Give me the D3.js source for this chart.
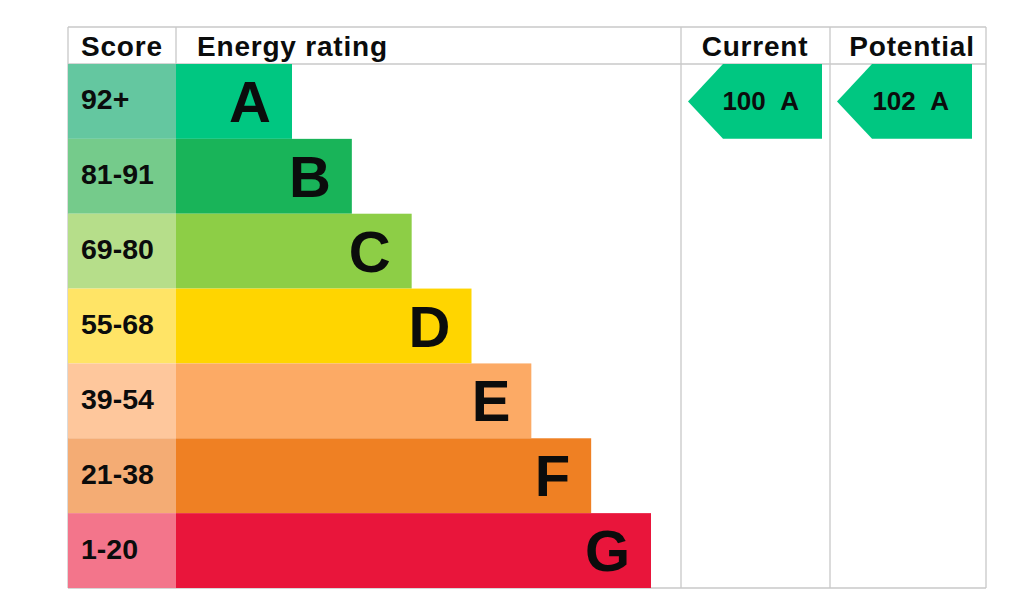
<!DOCTYPE html>
<html>

<head>
    <title>Energy rating</title>
    <script src="https://d3js.org/d3.v7.min.js"></script>
    <style>
        body { margin: 0; background: #fff; }
        text { font-family: "Liberation Sans", Arial, Helvetica, sans-serif; font-weight: bold; fill: #0b0c0c; }
    </style>
</head>

<body>
    <script>
        // rating bands, best first
        const letters = ["A", "B", "C", "D", "E", "F", "G"];
        const scoreLabels = ["92+", "81-91", "69-80", "55-68", "39-54", "21-38", "1-20"];
        const bandMin = [92, 81, 69, 55, 39, 21, 1];
        const barColors = ["#00c781", "#19b459", "#8dce46", "#ffd500", "#fcaa65", "#ef8023", "#e9153b"];
        const scoreColors = ["#64c7a0", "#75cb8b", "#b6de8a", "#ffe466", "#fec79c", "#f4ac74", "#f3758b"];
        const headers = ["Score", "Energy rating", "Current", "Potential"];
        const currentScore = 100;
        const potentialScore = 102;

        const width = 1024;
        const height = 614;
        const frameTop = 27, headerBottom = 64, frameBottom = 588;
        const colX = [68, 176, 681, 830, 986];
        const gridColor = "#c8c8c8";

        const svg = d3.select("body").append("svg")
            .attr("width", width)
            .attr("height", height);

        const y = d3.scaleBand()
            .domain(letters)
            .range([headerBottom, frameBottom]);

        // bar end grows by a fixed step per band
        const barEnd = d3.scaleLinear()
            .domain([0, letters.length - 1])
            .range([292, 651]);

        // grid lines
        const grid = svg.append("g")
            .style("stroke", gridColor)
            .style("stroke-width", 1.3);

        grid.append("line")
            .attr("x1", colX[0]).attr("x2", colX[4])
            .attr("y1", frameTop).attr("y2", frameTop);
        grid.append("line")
            .attr("x1", colX[0]).attr("x2", colX[4])
            .attr("y1", headerBottom).attr("y2", headerBottom);
        grid.append("line")
            .attr("x1", colX[0]).attr("x2", colX[4])
            .attr("y1", frameBottom).attr("y2", frameBottom);
        grid.selectAll("line.v")
            .data(colX)
            .enter().append("line")
            .attr("class", "v")
            .attr("x1", d => d).attr("x2", d => d)
            .attr("y1", frameTop)
            .attr("y2", (d, i) => i === 1 ? headerBottom : frameBottom);

        const rows = svg.append("g").selectAll("g")
            .data(letters)
            .enter().append("g");

        rows.append("rect")
            .attr("x", colX[0])
            .attr("y", d => y(d))
            .attr("width", colX[1] - colX[0])
            .attr("height", y.bandwidth())
            .style("fill", (d, i) => scoreColors[i]);

        rows.append("rect")
            .attr("x", colX[1])
            .attr("y", d => y(d))
            .attr("width", (d, i) => barEnd(i) - colX[1])
            .attr("height", y.bandwidth())
            .style("fill", (d, i) => barColors[i]);

        rows.append("text")
            .text((d, i) => scoreLabels[i])
            .attr("x", 81)
            .attr("y", d => y(d) + y.bandwidth() / 2 + 8)
            .style("font-size", "28.5px");

        rows.append("text")
            .text(d => d)
            .attr("text-anchor", "end")
            .attr("x", (d, i) => barEnd(i) - 21)
            .attr("y", d => y(d) + y.bandwidth() / 2 + 20.5)
            .style("font-size", "58px");

        // header texts
        const headerX = [81, 197, 755, 912];
        const headerAnchor = ["start", "start", "middle", "middle"];
        svg.append("g").selectAll("text")
            .data(headers)
            .enter().append("text")
            .text(d => d)
            .attr("x", (d, i) => headerX[i])
            .attr("y", 56)
            .attr("text-anchor", (d, i) => headerAnchor[i])
            .style("font-size", "28px")
            .style("letter-spacing", "0.8px");

        // current / potential arrows
        function bandFor(score) {
            const i = bandMin.findIndex(m => score >= m);
            return i < 0 ? letters.length - 1 : i;
        }

        const arrows = [
            { score: currentScore, tip: 688, right: 822 },
            { score: potentialScore, tip: 837, right: 972 }
        ];

        const arrow = svg.append("g").selectAll("g")
            .data(arrows)
            .enter().append("g");

        arrow.append("path")
            .attr("d", d => {
                const i = bandFor(d.score);
                const y0 = y(letters[i]), y1 = y0 + y.bandwidth();
                const ym = (y0 + y1) / 2;
                const neck = d.tip + 35;
                return `M${d.tip},${ym}L${neck},${y0}L${d.right},${y0}L${d.right},${y1}L${neck},${y1}Z`;
            })
            .style("fill", d => barColors[bandFor(d.score)]);

        arrow.append("text")
            .text(d => `${d.score}\u00a0\u00a0${letters[bandFor(d.score)]}`)
            .attr("text-anchor", "end")
            .attr("x", d => d.right - 23)
            .attr("y", d => y(letters[bandFor(d.score)]) + y.bandwidth() / 2 + 9)
            .style("font-size", "26px");
    </script>
</body>

</html>
